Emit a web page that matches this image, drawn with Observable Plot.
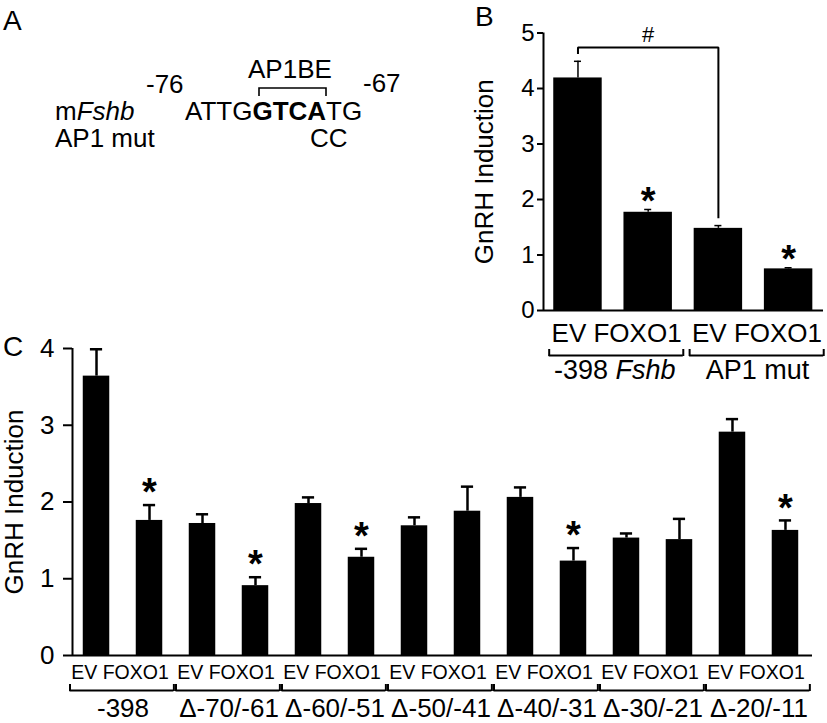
<!DOCTYPE html>
<html>
<head>
<meta charset="utf-8">
<script src="https://cdn.jsdelivr.net/npm/d3@7"></script>
<script src="https://cdn.jsdelivr.net/npm/@observablehq/plot@0.6"></script>
<style>
  html, body { margin: 0; padding: 0; background: #fff; }
  #fig { position: relative; width: 827px; height: 723px; background: #fff; overflow: hidden;
         font-family: "Liberation Sans", Arial, sans-serif; }
  #panelB { position: absolute; left: 420px; top: 0; }
  #panelC { position: absolute; left: 0; top: 330px; }
  #overlay { position: absolute; left: 0; top: 0; pointer-events: none; }
  svg text { font-family: "Liberation Sans", Arial, sans-serif; }
</style>
</head>
<body>
<div id="fig">
  <div id="panelC"></div>
  <div id="panelB"></div>
  <svg id="overlay" width="827" height="723" xmlns="http://www.w3.org/2000/svg">
    <g font-size="28" fill="#000">
      <text x="3" y="30">A</text>
      <text x="475" y="26">B</text>
      <text x="3" y="356">C</text>
    </g>
    <g font-size="26" fill="#000">
      <text x="146" y="93">-76</text>
      <text x="248" y="78">AP1BE</text>
      <text x="363" y="92">-67</text>
      <text x="55" y="120">m<tspan font-style="italic">Fshb</tspan></text>
      <text x="185" y="120">ATTG<tspan font-weight="bold">GTCA</tspan>TG</text>
      <text x="55" y="147">AP1 mut</text>
      <text x="310" y="147">CC</text>
    </g>
    <path d="M259,96 V88 H326 V96" fill="none" stroke="#000" stroke-width="1.6"/>
  </svg>
</div>
<script>
// ---------- Panel B data ----------
const conditionsB = ["EV", "FOXO1", "EV", "FOXO1"];
const groupNamesB = ["-398", "AP1 mut"];
const groupItalicB = ["Fshb", ""];
const valuesB = [4.19, 1.77, 1.48, 0.75];
const errorsB = [0.30, 0.05, 0.05, 0.02];
const starsB = [false, true, false, true];
const sigPairsB = [[0, 2]];
const sigSymbolsB = ["#"];

// ---------- Panel C data ----------
const conditionsC = ["EV", "FOXO1", "EV", "FOXO1", "EV", "FOXO1", "EV", "FOXO1", "EV", "FOXO1", "EV", "FOXO1", "EV", "FOXO1"];
const groupNamesC = ["-398", "Δ-70/-61", "Δ-60/-51", "Δ-50/-41", "Δ-40/-31", "Δ-30/-21", "Δ-20/-11"];
const valuesC = [3.64, 1.76, 1.72, 0.91, 1.98, 1.28, 1.69, 1.88, 2.06, 1.23, 1.53, 1.51, 2.91, 1.63];
const errorsC = [0.35, 0.20, 0.12, 0.11, 0.08, 0.11, 0.11, 0.32, 0.13, 0.17, 0.06, 0.27, 0.17, 0.13];
const starsC = [false, true, false, true, false, true, false, false, false, true, false, false, false, true];

const yTitle = "GnRH Induction";
const ticksB = [0, 1, 2, 3, 4, 5];
const ticksC = [0, 1, 2, 3, 4];

const FONT = "Liberation Sans, Arial, sans-serif";
const plotStyle = {background: "transparent", fontFamily: FONT, overflow: "visible"};

function makeBars(values, errors, stars, conditions) {
  return values.map((v, i) => ({i, v, cap: v + errors[i], star: stars[i], cond: conditions[i]}));
}
function makeGroups(names, italics, conditions) {
  return names.map((name, g) => {
    const first = g * 2, last = g * 2 + 1;
    return {name, italic: italics ? italics[g] : "", first, last, mid: (first + last) / 2,
            label: conditions.slice(first, last + 1).join(" ")};
  });
}

// ---------- Panel B ----------
const barsB = makeBars(valuesB, errorsB, starsB, conditionsB);
const groupsB = makeGroups(groupNamesB, groupItalicB, conditionsB);
const xDomB = [-0.491, 3.497];
const sigB = sigPairsB.map(([a, b], k) => {
  const top = Math.max(...barsB.slice(a, b + 1).map(d => d.cap)) + 0.25;
  return {a, b, top, sym: sigSymbolsB[k], mid: (a + b) / 2,
          pts: [{x: a, y: barsB[a].cap + 0.13}, {x: a, y: top}, {x: b, y: top}, {x: b, y: barsB[b].cap + 0.13}]};
});
const edgesB = groupsB.flatMap(g => [g.first - 0.41, g.last + 0.5]);

const plotB = Plot.plot({
  width: 407, height: 390,
  marginLeft: 123, marginRight: 4, marginTop: 32.5, marginBottom: 80,
  x: {domain: xDomB, axis: null},
  y: {domain: [0, 5], axis: null},
  style: plotStyle,
  marks: [
    Plot.rect(barsB, {x1: d => d.i - 0.345, x2: d => d.i + 0.345, y1: 0, y2: "v", fill: "black"}),
    Plot.ruleX(barsB, {x: "i", y1: "v", y2: "cap", strokeWidth: 1.5}),
    Plot.ruleY(barsB, {x1: d => d.i - 0.05, x2: d => d.i + 0.05, y: "cap", strokeWidth: 1.5}),
    Plot.text(barsB.filter(d => d.star), {x: "i", y: "cap", text: () => "*", fontSize: 38, fontWeight: "bold", dy: -8}),
    ...sigB.map(s => Plot.line(s.pts, {x: "x", y: "y", strokeWidth: 2, strokeLinejoin: "miter", strokeLinecap: "butt"})),
    Plot.text(sigB, {x: "mid", y: "top", text: "sym", fontSize: 22, dy: -12}),
    Plot.ruleY([0], {strokeWidth: 2}),
    Plot.ruleX([xDomB[0]], {y1: 0, y2: 5, strokeWidth: 2}),
    Plot.axisY({ticks: ticksB, tickSize: 6, tickPadding: 3, fontSize: 24, strokeWidth: 2, label: null, tickFormat: d => String(d)}),
    Plot.text([yTitle], {frameAnchor: "left", textAnchor: "middle", lineAnchor: "middle", rotate: -90, dx: -59, fontSize: 26}),
    Plot.text(groupsB, {x: "mid", y: 0, dy: 23, dx: 3.5, text: "label", fontSize: 26}),
    Plot.ruleY(groupsB, {x1: d => d.first - 0.41, x2: d => d.last + 0.5, y: 0, dy: 45, strokeWidth: 2}),
    Plot.ruleX(edgesB, {x: d => d, y1: 0, y2: 0, insetTop: 39, insetBottom: -46, strokeWidth: 2}),
    Plot.text(groupsB.filter(g => !g.italic), {x: "mid", y: 0, dy: 60, dx: 4, text: "name", fontSize: 27}),
    Plot.text(groupsB.filter(g => g.italic), {x: "mid", y: 0, dy: 60, dx: -5, text: "name", textAnchor: "end", fontSize: 27}),
    Plot.text(groupsB.filter(g => g.italic), {x: "mid", y: 0, dy: 60, dx: 2.5, text: "italic", textAnchor: "start", fontStyle: "italic", fontSize: 27})
  ]
});
document.getElementById("panelB").appendChild(plotB);

// ---------- Panel C ----------
const barsC = makeBars(valuesC, errorsC, starsC, conditionsC);
const groupsC = makeGroups(groupNamesC, null, conditionsC);
const xDomC = [-0.453, 13.51];
const edgesC = groupsC.flatMap(g => [g.first - 0.5, g.last + 0.46]);

const plotC = Plot.plot({
  width: 827, height: 393,
  marginLeft: 72, marginRight: 15, marginTop: 18, marginBottom: 68,
  x: {domain: xDomC, axis: null},
  y: {domain: [0, 4], axis: null},
  style: plotStyle,
  marks: [
    Plot.rect(barsC, {x1: d => d.i - 0.25, x2: d => d.i + 0.25, y1: 0, y2: "v", fill: "black"}),
    Plot.ruleX(barsC, {x: "i", y1: "v", y2: "cap", strokeWidth: 2.5}),
    Plot.ruleY(barsC, {x1: d => d.i - 0.115, x2: d => d.i + 0.115, y: "cap", strokeWidth: 2.5}),
    Plot.text(barsC.filter(d => d.star), {x: "i", y: "cap", text: () => "*", fontSize: 38, fontWeight: "bold", dy: -12}),
    Plot.ruleY([0], {strokeWidth: 2}),
    Plot.ruleX([xDomC[0]], {y1: 0, y2: 4, strokeWidth: 2}),
    Plot.axisY({ticks: ticksC, tickSize: 9, tickPadding: 9, fontSize: 26, strokeWidth: 2, label: null, tickFormat: d => String(d)}),
    Plot.text([yTitle], {frameAnchor: "left", textAnchor: "middle", lineAnchor: "middle", rotate: -90, dx: -58, fontSize: 26}),
    Plot.text(groupsC, {x: "mid", y: 0, dy: 17, dx: -3, text: "label", fontSize: 19.5}),
    Plot.ruleY(groupsC, {x1: d => d.first - 0.5, x2: d => d.last + 0.46, y: 0, dy: 35, strokeWidth: 2}),
    Plot.ruleX(edgesC, {x: d => d, y1: 0, y2: 0, insetTop: 29, insetBottom: -36, strokeWidth: 2}),
    Plot.text(groupsC, {x: "mid", y: 0, dy: 53, text: "name", fontSize: 26})
  ]
});
document.getElementById("panelC").appendChild(plotC);
</script>
</body>
</html>
